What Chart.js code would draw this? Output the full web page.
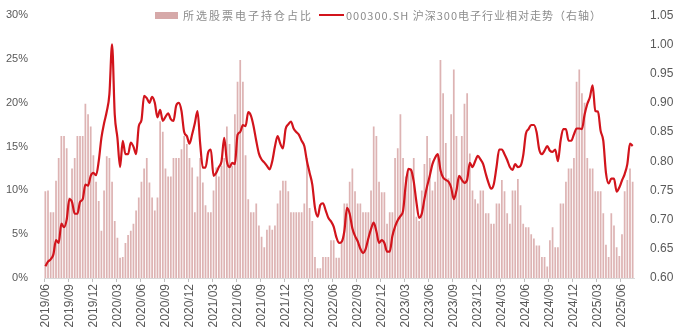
<!DOCTYPE html>
<html>
<head>
<meta charset="utf-8">
<script src="https://cdn.jsdelivr.net/npm/chart.js@4.4.1/dist/chart.umd.min.js"></script>
<style>
    body { margin: 0; background: #fff; }
    #wrap { position: relative; width: 678px; height: 333px; }
    #legend {
        position: absolute; top: 7px; left: 155px;
        display: flex; align-items: center;
        font: 11px "Noto Sans CJK SC", sans-serif; color: #8c8c8c;
    }
    .swatch { width: 23px; height: 7px; background: #d6a9a9; margin-right: 5px; }
    .lineKey { width: 25px; height: 2px; background: #d2141c; margin: 0 2px 0 6px; }
</style>
</head>
<body>
<div id="wrap">
    <canvas id="holdingChart"></canvas>
    <div id="legend"></div>
</div>
<script>
// series names
const barName = '所选股票电子持仓占比';
const lineName = '000300.SH 沪深300电子行业相对走势（右轴）';

// data starts 2019/06, three points per month
const startYear = 2019;
const startMonth = 6;

// quarter labels shown on the x axis
const quarterLabels = ['2019/06', '2019/09', '2019/12', '2020/03', '2020/06', '2020/09', '2020/12',
    '2021/03', '2021/06', '2021/09', '2021/12', '2022/03', '2022/06', '2022/09', '2022/12',
    '2023/03', '2023/06', '2023/09', '2023/12', '2024/03', '2024/06', '2024/09', '2024/12',
    '2025/03', '2025/06'];

// holding share (%), left axis
const holdingShare = [
    9.9, 10.0, 7.5, 7.5, 11.1, 13.7, 16.2, 16.2, 14.8, 9.2,
    12.5, 13.7, 16.2, 16.2, 16.2, 19.9, 18.7, 17.3, 14.0, 11.0,
    8.8, 5.4, 10.0, 13.9, 13.7, 11.0, 6.5, 4.6, 2.3, 2.4,
    4.0, 4.9, 5.4, 6.2, 7.7, 9.2, 11.0, 12.5, 13.7, 10.9,
    9.2, 7.7, 9.2, 17.9, 16.7, 12.5, 11.6, 11.6, 13.7, 13.7,
    13.7, 14.7, 16.2, 15.3, 13.7, 12.6, 7.5, 11.6, 13.7, 10.9,
    8.3, 7.5, 7.5, 10.0, 12.6, 11.6, 12.8, 13.7, 17.3, 15.3,
    12.8, 18.7, 22.4, 24.9, 22.4, 14.0, 9.0, 7.5, 7.5, 8.5,
    6.0, 4.7, 3.5, 5.5, 6.0, 5.5, 6.0, 8.5, 10.0, 11.1,
    11.1, 9.9, 7.5, 7.5, 7.5, 7.5, 7.5, 8.5, 13.7, 8.0,
    6.5, 2.4, 1.1, 1.1, 2.4, 2.4, 2.4, 4.3, 4.3, 2.3,
    2.3, 4.0, 8.5, 8.5, 11.0, 12.5, 9.9, 8.5, 8.5, 7.5,
    7.5, 7.5, 10.0, 17.3, 16.2, 11.0, 9.8, 9.8, 6.2, 7.5,
    7.5, 13.7, 14.8, 18.7, 13.7, 11.6, 12.5, 12.5, 13.7, 7.0,
    6.5, 10.0, 13.0, 16.2, 13.7, 10.0, 11.0, 14.1, 24.9, 21.1,
    15.4, 11.4, 18.7, 23.8, 16.2, 11.4, 16.2, 19.9, 21.1, 14.2,
    10.0, 9.0, 8.5, 10.0, 10.0, 7.4, 7.4, 6.2, 6.2, 8.5,
    8.5, 11.2, 9.9, 7.4, 6.2, 10.0, 10.0, 11.3, 8.3, 6.2,
    5.8, 5.8, 5.0, 4.5, 3.7, 3.7, 2.4, 2.4, 1.3, 4.3,
    5.8, 3.5, 3.5, 8.5, 8.5, 11.0, 12.5, 12.5, 13.7, 22.4,
    23.8, 21.1, 20.0, 13.7, 12.5, 12.5, 9.9, 9.9, 9.9, 7.4,
    3.8, 2.4, 7.4, 6.0, 3.5, 2.5, 5.0, 9.9, 11.2, 12.5,
    11.0
];

// relative trend, right axis
const relativeTrend = [
    0.620, 0.628, 0.632, 0.640, 0.665, 0.660, 0.693, 0.687, 0.700, 0.735,
    0.730, 0.710, 0.710, 0.730, 0.735, 0.760, 0.758, 0.775, 0.780, 0.776,
    0.800, 0.840, 0.865, 0.885, 0.915, 1.000, 0.880, 0.840, 0.790, 0.835,
    0.812, 0.812, 0.832, 0.825, 0.812, 0.860, 0.870, 0.912, 0.908, 0.900,
    0.910, 0.900, 0.875, 0.888, 0.869, 0.876, 0.882, 0.872, 0.869, 0.895,
    0.900, 0.886, 0.850, 0.843, 0.830, 0.846, 0.865, 0.886, 0.830, 0.789,
    0.789, 0.815, 0.820, 0.775, 0.780, 0.790, 0.800, 0.840, 0.800, 0.790,
    0.797, 0.795, 0.845, 0.850, 0.862, 0.860, 0.884, 0.878, 0.860, 0.835,
    0.813, 0.803, 0.798, 0.792, 0.786, 0.800, 0.825, 0.843, 0.830, 0.822,
    0.855, 0.863, 0.868, 0.856, 0.850, 0.845, 0.835, 0.826, 0.800, 0.780,
    0.760, 0.720, 0.705, 0.725, 0.728, 0.716, 0.703, 0.697, 0.688, 0.670,
    0.660, 0.662, 0.680, 0.720, 0.710, 0.685, 0.672, 0.663, 0.650, 0.643,
    0.650, 0.668, 0.684, 0.695, 0.680, 0.660, 0.665, 0.660, 0.645, 0.645,
    0.672, 0.688, 0.699, 0.706, 0.715, 0.760, 0.787, 0.785, 0.765, 0.730,
    0.703, 0.710, 0.735, 0.757, 0.775, 0.795, 0.806, 0.812, 0.785, 0.772,
    0.768, 0.765, 0.755, 0.735, 0.750, 0.775, 0.768, 0.763, 0.768, 0.797,
    0.790, 0.800, 0.809, 0.803, 0.795, 0.778, 0.763, 0.753, 0.761, 0.790,
    0.820, 0.820, 0.812, 0.802, 0.790, 0.785, 0.795, 0.790, 0.792, 0.810,
    0.847, 0.855, 0.862, 0.862, 0.850, 0.820, 0.812, 0.818, 0.826, 0.818,
    0.816, 0.820, 0.800, 0.835, 0.855, 0.855, 0.835, 0.835, 0.846, 0.856,
    0.856, 0.855, 0.880, 0.898, 0.910, 0.930, 0.886, 0.885, 0.852, 0.835,
    0.780, 0.762, 0.770, 0.770, 0.748, 0.755, 0.767, 0.778, 0.795, 0.830,
    0.826
];

// one category per point: month label repeated for each third of the month
const categories = holdingShare.map((_, i) => {
    const m = startMonth - 1 + Math.floor(i / 3);
    const year = startYear + Math.floor(m / 12);
    const month = String(m % 12 + 1).padStart(2, '0');
    return year + '/' + month;
});

function isQuarterTick(i) {
    return i % 3 === 0 && quarterLabels.includes(categories[i]);
}

// legend as plain html
document.getElementById('legend').innerHTML =
    '<span class="swatch"></span><span style="letter-spacing:2px">' + barName + '</span>' +
    '<span class="lineKey"></span><span style="letter-spacing:1px">' + lineName + '</span>';

const tickFont = { family: 'Liberation Sans', size: 11 };
const tickFontBig = { family: 'Liberation Sans', size: 12 };

new Chart(document.getElementById('holdingChart'), {
    data: {
        labels: categories,
        datasets: [{
            type: 'line',
            label: lineName,
            data: relativeTrend,
            yAxisID: 'y1',
            borderColor: '#d2141c',
            borderWidth: 2.2,
            pointRadius: 0,
            cubicInterpolationMode: 'monotone',
            order: 0
        }, {
            type: 'bar',
            label: barName,
            data: holdingShare,
            yAxisID: 'y',
            backgroundColor: 'rgba(208,150,150,0.72)',
            barPercentage: 0.65,
            categoryPercentage: 1,
            order: 1
        }]
    },
    options: {
        responsive: true,
        maintainAspectRatio: false,
        animation: false,
        layout: { padding: { top: 13 } },
        plugins: {
            legend: { display: false },
            tooltip: { enabled: false }
        },
        scales: {
            x: {
                grid: {
                    drawOnChartArea: false,
                    tickLength: 4,
                    color: ctx => isQuarterTick(ctx.index) ? '#bfbfbf' : 'rgba(0,0,0,0)'
                },
                border: { color: '#d9d9d9' },
                ticks: {
                    autoSkip: false,
                    minRotation: 90,
                    maxRotation: 90,
                    padding: 2,
                    color: '#595959',
                    font: tickFontBig,
                    callback: function (value, index) {
                        return isQuarterTick(index) ? categories[index] : '';
                    }
                },
                afterFit: s => { s.height = 55; }
            },
            y: {
                position: 'left',
                min: 0,
                max: 30,
                grid: { display: false },
                border: { display: false },
                ticks: {
                    stepSize: 5,
                    padding: 8,
                    color: '#595959',
                    font: tickFont,
                    callback: v => v + '%'
                },
                afterFit: s => { s.width = 44; }
            },
            y1: {
                position: 'right',
                min: 0.6,
                max: 1.05,
                grid: { display: false },
                border: { display: false },
                ticks: {
                    stepSize: 0.05,
                    padding: 8,
                    color: '#595959',
                    font: tickFontBig,
                    callback: v => v.toFixed(2)
                },
                afterFit: s => { s.width = 44; }
            }
        }
    }
});
</script>
</body>
</html>
